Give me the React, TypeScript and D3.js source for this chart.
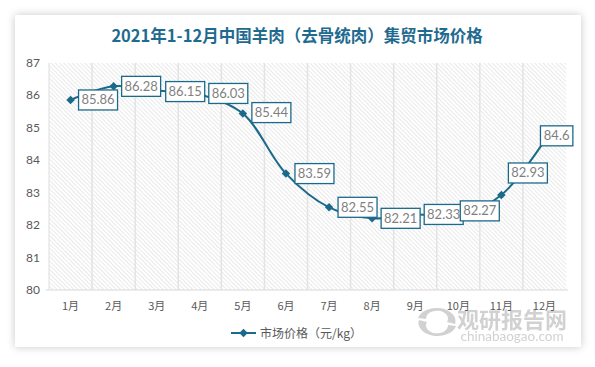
import React from "react";
import * as d3 from "d3";

// data
const months = ["1月", "2月", "3月", "4月", "5月", "6月", "7月", "8月", "9月", "10月", "11月", "12月"];
const prices = [85.86, 86.28, 86.15, 86.03, 85.44, 83.59, 82.55, 82.21, 82.33, 82.27, 82.93, 84.6];
const yTicks = [80, 81, 82, 83, 84, 85, 86, 87];

// label box offsets from its point: [left gap, vertical shift]
const labelOffsets: [number, number][] = [
  [8, 0], [8, 0], [9, 1], [9, -1], [9, -1], [9, 0],
  [9, 0], [9, 0], [9, 0], [2, -5.5], [7, -22], [-4, -5],
];

const W = 595;
const H = 367;
const plot = { left: 49, right: 566, top: 63, bottom: 290 };
const teal = "#1c6a8b";
const cjk = "'Noto Sans CJK SC', 'Noto Sans', sans-serif";
const num = "Lato, 'Noto Sans', sans-serif";

const App = () => {
  const x = d3.scaleBand<string>().domain(months).range([plot.left, plot.right]);
  const y = d3.scaleLinear().domain([80, 87]).range([plot.bottom, plot.top]);
  const cx = (i: number) => (x(months[i]) as number) + x.bandwidth() / 2;

  const line = d3
    .line<number>()
    .x((_, i) => cx(i))
    .y((d) => y(d))
    .curve(d3.curveCatmullRom.alpha(0.5));

  // excel style marker: a square turned 45 degrees
  const marker = d3.symbol(d3.symbolSquare, 36)();

  return (
    <svg width={W} height={H} style={{ position: "absolute", left: 0, top: 0, background: "#fff" }}>
      <defs>
        <filter id="shadow" x="-5%" y="-5%" width="110%" height="110%">
          <feDropShadow dx="0" dy="0" stdDeviation="4" floodColor="#000" floodOpacity="0.22" />
        </filter>
        <pattern id="hatch" width="3" height="3" patternUnits="userSpaceOnUse" patternTransform="rotate(-45)">
          <rect width="3" height="3" fill="#fff" />
          <line x1="0" y1="0" x2="0" y2="3" stroke="#d4d4d4" strokeWidth="1" />
        </pattern>
      </defs>

      <rect x={15} y={15} width={566} height={332} fill="#fff" filter="url(#shadow)" />

      <text x={297} y={42} textAnchor="middle" fontFamily={cjk} fontWeight="bold" fontSize={16.5} fill="#1f6b8f">
        2021年1-12月中国羊肉（去骨统肉）集贸市场价格
      </text>

      {/* plot background */}
      <rect x={plot.left} y={plot.top} width={plot.right - plot.left} height={plot.bottom - plot.top} fill="url(#hatch)" />
      {months.map((m, i) => (
        <line
          key={m}
          x1={(x(m) as number) + x.bandwidth()}
          x2={(x(m) as number) + x.bandwidth()}
          y1={plot.top}
          y2={plot.bottom}
          stroke="#e3e3e3"
          strokeWidth={1.5}
          opacity={i === months.length - 1 ? 0 : 1}
        />
      ))}
      <line x1={plot.left} x2={plot.left} y1={plot.top} y2={plot.bottom} stroke="#e3e3e3" strokeWidth={1.2} />
      <line x1={plot.left - 3} x2={plot.right + 2} y1={plot.bottom} y2={plot.bottom} stroke="#d9d9d9" strokeWidth={1.2} />

      {yTicks.map((t) => (
        <text key={t} x={40} y={y(t) + 4} textAnchor="end" fontFamily={num} fontSize={12} fill="#595959">
          {t}
        </text>
      ))}

      {/* watermark */}
      <g opacity={0.45} fill="#9a9a9a">
        <path d="M418,318 a19,13 0 1,1 37,6 l-8,-2 a11,8 0 1,0 -21,-3 z" />
        <path d="M456,326 a19,13 0 1,1 -37,-6 l8,2 a11,8 0 1,0 21,3 z" />
        <text x={512} y={328} textAnchor="middle" fontFamily={cjk} fontWeight="bold" fontSize={22}>
          观研报告网
        </text>
        <text x={512} y={341} textAnchor="middle" fontFamily={num} fontSize={13.5}>
          chinabaogao.com
        </text>
      </g>

      {months.map((m, i) => (
        <text key={m} x={cx(i)} y={310} textAnchor="middle" fontFamily={cjk} fontSize={11} fill="#595959">
          {m}
        </text>
      ))}

      <path d={line(prices) ?? ""} fill="none" stroke={teal} strokeWidth={2} />
      {prices.map((v, i) => (
        <path key={i} d={marker ?? ""} transform={`translate(${cx(i)},${y(v)}) rotate(45)`} fill={teal} />
      ))}

      {prices.map((v, i) => {
        const [dx, dy] = labelOffsets[i];
        const label = String(v);
        const w = label.length * 6.6 + 6;
        const bx = cx(i) + dx;
        const by = y(v) + dy;
        return (
          <g key={`l${i}`}>
            <rect x={bx} y={by - 10} width={w} height={20} fill="#fff" stroke={teal} strokeWidth={1.3} />
            <text x={bx + w / 2} y={by + 4.5} textAnchor="middle" fontFamily={num} fontSize={13} fill="#7f7f7f">
              {label}
            </text>
          </g>
        );
      })}

      {/* legend */}
      <line x1={231} x2={256} y1={333} y2={333} stroke={teal} strokeWidth={2} />
      <path d={marker ?? ""} transform="translate(243.5,333) rotate(45)" fill={teal} />
      <text x={260} y={337.5} fontFamily={cjk} fontSize={12} fill="#595959">
        市场价格（元/kg）
      </text>
    </svg>
  );
};

export default App;
